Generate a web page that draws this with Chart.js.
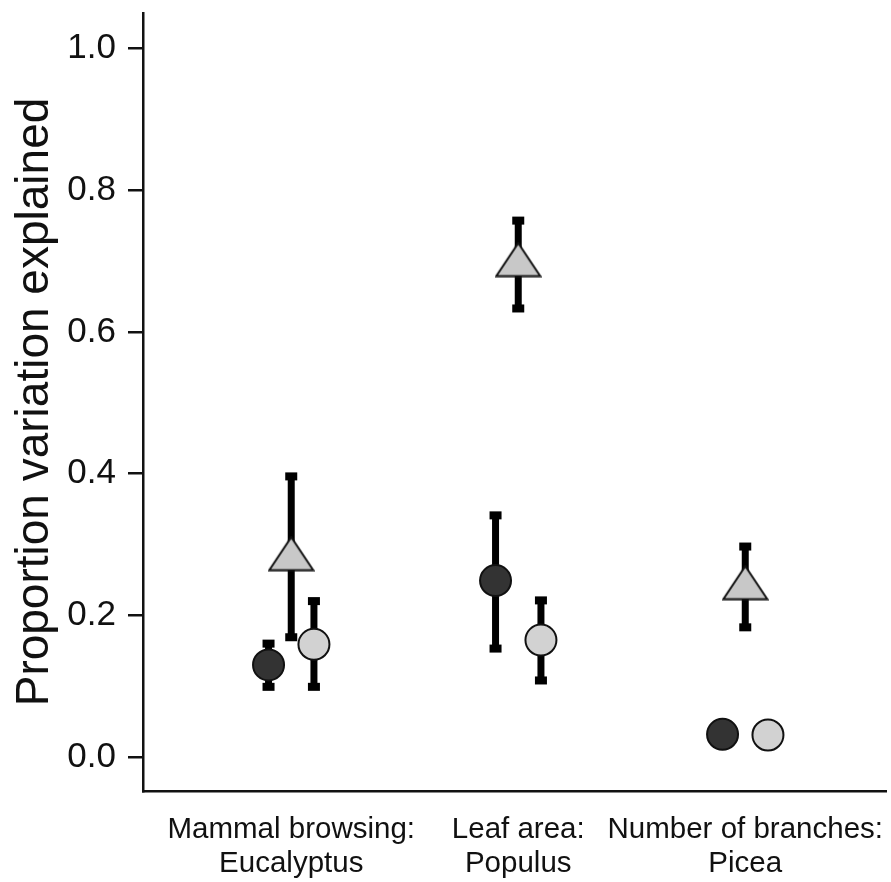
<!DOCTYPE html>
<html>
<head>
<meta charset="utf-8">
<script src="https://cdn.jsdelivr.net/npm/chart.js@4.4.1/dist/chart.umd.min.js"></script>
<style>
  html, body { margin: 0; background: #fff; }
</style>
</head>
<body>
<canvas id="chart" width="891" height="882"></canvas>
<script>
// categories and tick labels
const categories = [
  ['Mammal browsing:', 'Eucalyptus'],
  ['Leaf area:', 'Populus'],
  ['Number of branches:', 'Picea']
];
const yTicks = [0, 0.2, 0.4, 0.6, 0.8, 1.0];

// dark circles
const darkValues = [0.130, 0.249, 0.032];
const darkLow = [0.099, 0.153, null];
const darkHigh = [0.160, 0.341, null];

// triangles
const triValues = [0.287, 0.702, 0.246];
const triLow = [0.169, 0.633, 0.183];
const triHigh = [0.396, 0.757, 0.297];

// light circles
const lightValues = [0.159, 0.165, 0.031];
const lightLow = [0.099, 0.108, null];
const lightHigh = [0.220, 0.221, null];

// flattened triangle marker, drawn once on a small canvas
function makeTriangle(w, h, fill) {
  const c = document.createElement('canvas');
  c.width = w;
  c.height = h;
  const g = c.getContext('2d');
  g.beginPath();
  g.moveTo(w / 2, 1.5);
  g.lineTo(w - 1.5, h - 1.5);
  g.lineTo(1.5, h - 1.5);
  g.closePath();
  g.fillStyle = fill;
  g.fill();
  g.lineWidth = 2;
  g.strokeStyle = '#111';
  g.stroke();
  return c;
}

const toPoints = (values, low, high, offset) =>
  values.map((v, i) => ({ x: i + 1 + offset, y: v, low: low[i], high: high[i] }));

// error bars go under the markers
const errorBars = {
  id: 'errorBars',
  beforeDatasetsDraw(chart) {
    const { ctx, scales: { x, y } } = chart;
    ctx.save();
    ctx.strokeStyle = '#000';
    ctx.fillStyle = '#000';
    chart.data.datasets.forEach(ds => {
      ds.data.forEach(p => {
        if (p.low == null) return;
        const px = x.getPixelForValue(p.x);
        const top = y.getPixelForValue(p.high);
        const bot = y.getPixelForValue(p.low);
        ctx.lineWidth = 7;
        ctx.beginPath();
        ctx.moveTo(px, top);
        ctx.lineTo(px, bot);
        ctx.stroke();
        ctx.fillRect(px - 6, top - 4, 12, 8);
        ctx.fillRect(px - 6, bot - 4, 12, 8);
      });
    });
    ctx.restore();
  }
};

const ctx = document.getElementById('chart').getContext('2d');
new Chart(ctx, {
  type: 'scatter',
  data: {
    datasets: [
      {
        label: 'dark',
        data: toPoints(darkValues, darkLow, darkHigh, -0.1),
        pointStyle: 'circle',
        pointRadius: 15.5,
        backgroundColor: '#333333',
        borderColor: '#111',
        borderWidth: 2
      },
      {
        label: 'light',
        data: toPoints(lightValues, lightLow, lightHigh, 0.1),
        pointStyle: 'circle',
        pointRadius: 15.5,
        backgroundColor: '#d2d2d2',
        borderColor: '#111',
        borderWidth: 2
      },
      {
        label: 'triangle',
        data: toPoints(triValues, triLow, triHigh, 0),
        pointStyle: makeTriangle(47, 36, '#c8c8c8'),
        pointRadius: 20
      }
    ]
  },
  options: {
    responsive: false,
    animation: false,
    devicePixelRatio: 1,
    events: [],
    layout: { autoPadding: false, padding: { top: 13, right: 5, left: 0, bottom: 0 } },
    plugins: {
      legend: { display: false },
      tooltip: { enabled: false }
    },
    scales: {
      x: {
        type: 'linear',
        min: 0.347,
        max: 3.62,
        afterBuildTicks: axis => {
          axis.ticks = categories.map((_, i) => ({ value: i + 1 }));
        },
        afterFit: axis => {
          axis.height = 91;
          axis.paddingLeft = 0;
          axis.paddingRight = 0;
        },
        ticks: {
          callback: v => categories[v - 1],
          autoSkip: false,
          maxRotation: 0,
          padding: 14,
          color: '#111',
          font: { family: "'Liberation Sans', Arial, sans-serif", size: 29.5, lineHeight: 1.15 }
        },
        grid: { display: false },
        border: { display: true, color: '#111', width: 2.5 }
      },
      y: {
        type: 'linear',
        min: -0.048,
        max: 1.05,
        afterBuildTicks: axis => {
          axis.ticks = yTicks.map(v => ({ value: v }));
        },
        afterFit: axis => {
          axis.width = 143;
          axis.paddingTop = 0;
          axis.paddingBottom = 0;
        },
        ticks: {
          callback: v => v.toFixed(1),
          padding: 12,
          color: '#111',
          font: { family: "'Liberation Sans', Arial, sans-serif", size: 35 }
        },
        grid: {
          drawOnChartArea: false,
          drawTicks: true,
          tickLength: 15,
          color: '#111',
          lineWidth: 2.5
        },
        border: { display: true, color: '#111', width: 2.5 },
        title: {
          display: true,
          text: 'Proportion variation explained',
          color: '#111',
          padding: { top: 8, bottom: 0 },
          font: { family: "'Liberation Sans', Arial, sans-serif", size: 46 }
        }
      }
    }
  },
  plugins: [errorBars]
});
</script>
</body>
</html>
